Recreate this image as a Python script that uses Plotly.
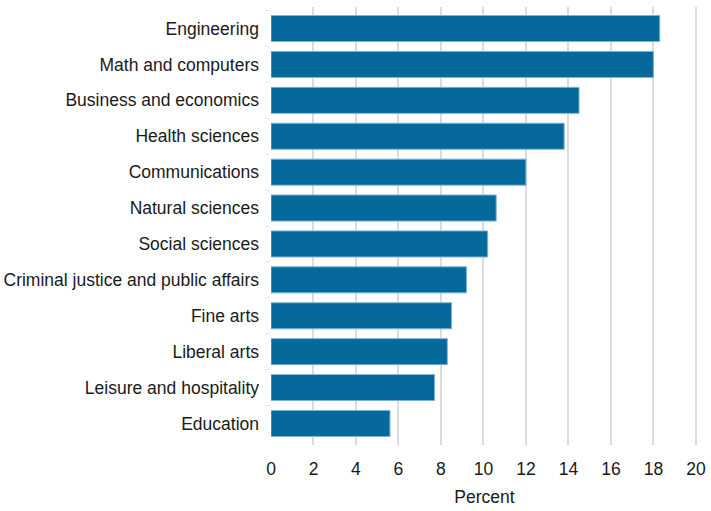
import plotly.graph_objects as go

categories = [
    "Engineering",
    "Math and computers",
    "Business and economics",
    "Health sciences",
    "Communications",
    "Natural sciences",
    "Social sciences",
    "Criminal justice and public affairs",
    "Fine arts",
    "Liberal arts",
    "Leisure and hospitality",
    "Education",
]
values = [18.3, 18.0, 14.5, 13.8, 12.0, 10.6, 10.2, 9.2, 8.5, 8.3, 7.7, 5.6]
x_ticks = list(range(0, 21, 2))

fig = go.Figure(
    go.Bar(
        y=categories,
        x=values,
        orientation="h",
        marker=dict(color="#05699B", line=dict(color="#7fb2d4", width=1)),
        hoverinfo="x+y",
    )
)

fig.update_layout(
    width=711,
    height=511,
    margin=dict(l=271, r=13, t=7, b=66),
    plot_bgcolor="white",
    paper_bgcolor="white",
    bargap=0.275,
    showlegend=False,
    font=dict(family="Liberation Sans, Arial, sans-serif", size=17.5, color="#1a1a1a"),
)

fig.update_xaxes(
    range=[0, 20.1],
    tickvals=x_ticks,
    showgrid=True,
    gridcolor="#dcdcdc",
    gridwidth=1.5,
    zeroline=False,
    showline=False,
    ticks="",
    ticklabelstandoff=11,
    automargin=False,
    title=dict(text="Percent", standoff=13, font=dict(size=17.5)),
)

fig.update_yaxes(
    type="category",
    categoryorder="array",
    categoryarray=categories,
    range=[11.6, -0.6],
    showgrid=False,
    zeroline=False,
    showline=False,
    ticks="outside",
    tickson="boundaries",
    ticklen=5,
    tickwidth=1,
    tickcolor="#e6e6e6",
    ticklabelstandoff=11,
    automargin=False,
)

fig.write_html(
    "out.html",
    config={"displayModeBar": False},
    post_script="document.body.style.margin='0';document.body.style.padding='0';",
)
